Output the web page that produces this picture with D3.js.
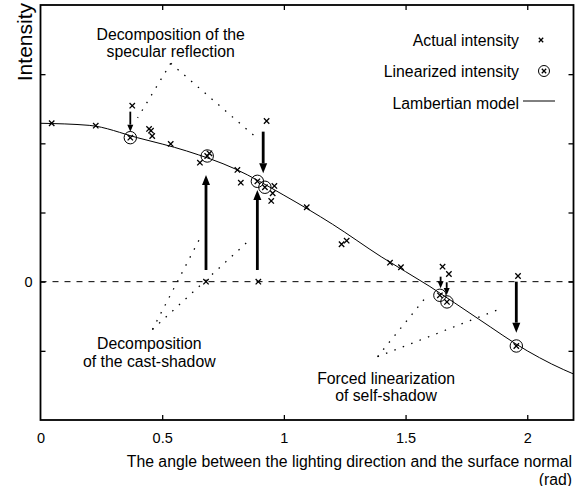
<!DOCTYPE html>
<html>
<head>
<meta charset="utf-8">
<script src="https://cdn.jsdelivr.net/npm/d3@7"></script>
<style>
body { margin: 0; background: #fff; }
text { font-family: "Liberation Sans", Arial, sans-serif; fill: #000; }
</style>
</head>
<body>
<div id="chart"></div>
<script>
// tick values
const xTicks = [0, 0.5, 1, 1.5, 2];
const yTicks = [-1, 0, 1, 2, 3];
const yLabelled = [0];

// Lambertian model
const modelAngle = [0, 0.2, 0.4, 0.6, 0.8, 1.0, 1.2, 1.4, 1.6, 1.8, 2.0, 2.1, 2.2];
const modelIntensity = [2.29, 2.26, 2.08, 1.89, 1.63, 1.25, 0.83, 0.36, -0.07, -0.54, -1.0, -1.19, -1.35];

// actual intensity (crosses)
const actualAngle = [0.046, 0.227, 0.377, 0.446, 0.454, 0.459, 0.535, 0.655, 0.694, 0.809, 0.823,
  0.929, 0.961, 0.954, 0.948, 0.680, 0.895, 1.094, 1.237, 1.258, 1.436, 1.481, 1.652, 1.678, 1.962];
const actualIntensity = [2.29, 2.255, 2.544, 2.208, 2.183, 2.106, 1.991, 1.72, 1.856, 1.615, 1.431,
  2.323, 1.384, 1.278, 1.167, 0, 0, 1.076, 0.541, 0.593, 0.275, 0.208, 0.217, 0.111, 0.082];

// linearized intensity (circled crosses)
const linAngle = [0.369, 0.685, 0.891, 0.922, 1.641, 1.670, 1.955];
const linIntensity = [2.082, 1.817, 1.451, 1.365, -0.197, -0.293, -0.930];

// correction arrows
const arrowAngle = [0.369, 0.915, 0.680, 0.891, 1.644, 1.669, 1.955];
const arrowFrom = [2.458, 2.169, 0.169, 0.169, 0.072, -0.009, 0.0];
const arrowTo = [2.169, 1.567, 1.543, 1.326, -0.095, -0.192, -0.737];

// annotations: text lines and leader lines (data units)
const notes = [
  { lines: ["Decomposition of the", "specular reflection"], at: [0.535, 3.50],
    apex: [0.535, 3.157], ends: [[0.399, 2.367], [0.898, 2.049]] },
  { lines: ["Decomposition", "of the cast-shadow"], at: [0.447, -0.98],
    apex: [0.460, -0.691], ends: [[0.653, 0.613], [0.859, 0.603]] },
  { lines: ["Forced linearization", "of self-shadow"], at: [1.42, -1.478],
    apex: [1.385, -1.084], ends: [[1.591, -0.192], [1.895, -0.385]] }
];

const legendLabels = ["Actual intensity", "Linearized intensity", "Lambertian model"];

let boxWidth = 586, boxHeight = 486;

let svg = d3.select("#chart").append("svg")
  .attr("width", boxWidth)
  .attr("height", boxHeight);

let x = d3.scaleLinear().domain([0, 2.19]).range([40.5, 573.5]);
let y = d3.scaleLinear().domain([-2, 4]).range([420, 5]);

svg.append("defs").append("clipPath").attr("id", "plotclip")
  .append("rect")
  .attr("x", x(0)).attr("y", y(4))
  .attr("width", x(2.19) - x(0)).attr("height", y(-2) - y(4));

// axes
let fmt = d => d3.format("")(d);
let xAxis = svg.append("g")
  .attr("transform", `translate(0, ${y(-2)})`)
  .call(d3.axisBottom(x).tickValues(xTicks).tickSize(-5).tickPadding(13).tickFormat(fmt));
let xAxisTop = svg.append("g")
  .attr("transform", `translate(0, ${y(4)})`)
  .call(d3.axisTop(x).tickValues(xTicks.slice(1)).tickSize(-5).tickFormat(""));
let yAxis = svg.append("g")
  .attr("transform", `translate(${x(0)}, 0)`)
  .call(d3.axisLeft(y).tickValues(yTicks).tickSize(-5).tickPadding(8)
    .tickFormat(d => yLabelled.includes(d) ? fmt(d) : ""));
let yAxisRight = svg.append("g")
  .attr("transform", `translate(${x(2.19)}, 0)`)
  .call(d3.axisRight(y).tickValues(yTicks).tickSize(-5).tickFormat(""));

[xAxis, xAxisTop, yAxis, yAxisRight].forEach(a => {
  a.select(".domain").remove();
  a.selectAll(".tick line").attr("stroke", "#000").attr("stroke-width", 1.3);
  a.selectAll(".tick text").attr("font-size", "14.5px").attr("font-family", "Liberation Sans, Arial, sans-serif");
});
xAxis.selectAll(".tick line").filter(d => d === 0).remove();

// frame
svg.append("rect")
  .attr("x", x(0)).attr("y", y(4))
  .attr("width", x(2.19) - x(0)).attr("height", y(-2) - y(4))
  .attr("fill", "none").attr("stroke", "#000").attr("stroke-width", 1.8);

// zero line
svg.append("line")
  .attr("x1", x(0)).attr("x2", x(2.19))
  .attr("y1", y(0)).attr("y2", y(0))
  .attr("stroke", "#000").attr("stroke-width", 1)
  .attr("stroke-dasharray", "6,6");

// model curve
let model = modelAngle.map((a, i) => [a, modelIntensity[i]]);
svg.append("path")
  .datum(model)
  .attr("clip-path", "url(#plotclip)")
  .attr("fill", "none").attr("stroke", "#000").attr("stroke-width", 1)
  .attr("d", d3.line().x(d => x(d[0])).y(d => y(d[1])).curve(d3.curveMonotoneX));

// leader lines and annotation text
notes.forEach(n => {
  n.ends.forEach(e => {
    svg.append("line")
      .attr("x1", x(n.apex[0])).attr("y1", y(n.apex[1]))
      .attr("x2", x(e[0])).attr("y2", y(e[1]))
      .attr("stroke", "#000").attr("stroke-width", 1.3)
      .attr("stroke-dasharray", "1.5,7.5");
  });
  let t = svg.append("text")
    .attr("text-anchor", "middle")
    .attr("font-size", "15.8px");
  n.lines.forEach((l, i) => {
    t.append("tspan")
      .attr("x", x(n.at[0]))
      .attr("y", y(n.at[1]) + i * 17.4)
      .text(l);
  });
});

// markers
const crossPath = s => `M${-s},${-s}L${s},${s}M${-s},${s}L${s},${-s}`;

svg.selectAll(".actual")
  .data(actualAngle.map((a, i) => [a, actualIntensity[i]]))
  .enter().append("path")
  .attr("class", "actual")
  .attr("transform", d => `translate(${x(d[0])}, ${y(d[1])})`)
  .attr("d", crossPath(2.7))
  .attr("stroke", "#000").attr("stroke-width", 1.3).attr("fill", "none");

let lin = svg.selectAll(".lin")
  .data(linAngle.map((a, i) => [a, linIntensity[i]]))
  .enter().append("g")
  .attr("class", "lin")
  .attr("transform", d => `translate(${x(d[0])}, ${y(d[1])})`);
lin.append("circle").attr("r", 6.2).attr("fill", "none").attr("stroke", "#000").attr("stroke-width", 1);
lin.append("path").attr("d", crossPath(2.7)).attr("stroke", "#000").attr("stroke-width", 1.3);

// arrows
arrowAngle.forEach((a, i) => {
  let ax = x(a), y0 = y(arrowFrom[i]), y1 = y(arrowTo[i]);
  let dir = y1 > y0 ? 1 : -1;
  let big = Math.abs(y1 - y0) > 30;
  let headLen = big ? 10 : 7;
  let hw = big ? 4 : 3;
  svg.append("line")
    .attr("x1", ax).attr("x2", ax)
    .attr("y1", y0).attr("y2", y1 - dir * headLen)
    .attr("stroke", "#000").attr("stroke-width", big ? 2.8 : 1.8);
  svg.append("path")
    .attr("d", `M${ax},${y1}L${ax - hw},${y1 - dir * headLen}L${ax + hw},${y1 - dir * headLen}Z`)
    .attr("fill", "#000");
});

// legend
let legend = svg.append("g").attr("font-size", "15.8px");
legendLabels.forEach((l, i) => {
  legend.append("text")
    .attr("x", 519).attr("y", 45.6 + i * 31.5)
    .attr("text-anchor", "end")
    .text(l);
});
legend.append("path")
  .attr("transform", "translate(541, 40)")
  .attr("d", crossPath(2.2))
  .attr("stroke", "#000").attr("stroke-width", 1.3);
let lg = legend.append("g").attr("transform", "translate(544, 71)");
lg.append("circle").attr("r", 5.5).attr("fill", "none").attr("stroke", "#000").attr("stroke-width", 1);
lg.append("path").attr("d", crossPath(2.2)).attr("stroke", "#000").attr("stroke-width", 1.3);
legend.append("line")
  .attr("x1", 523).attr("x2", 555)
  .attr("y1", 101).attr("y2", 101)
  .attr("stroke", "#000").attr("stroke-width", 1);

// axis titles
svg.append("text")
  .attr("transform", "translate(32, 3) rotate(-90)")
  .attr("text-anchor", "end")
  .attr("font-size", "21px")
  .text("Intensity");

svg.append("text")
  .attr("x", 572).attr("y", 466.5)
  .attr("text-anchor", "end")
  .attr("font-size", "15.8px")
  .text("The angle between the lighting direction and the surface normal");
svg.append("text")
  .attr("x", 572).attr("y", 484.5)
  .attr("text-anchor", "end")
  .attr("font-size", "15.8px")
  .text("(rad)");
</script>
</body>
</html>
